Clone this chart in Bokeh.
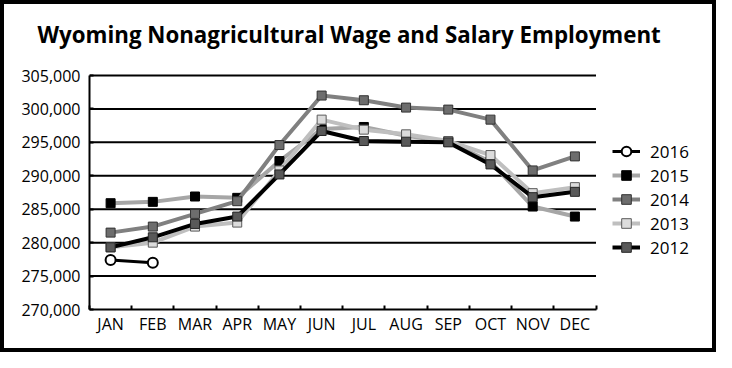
from bokeh.plotting import figure
from bokeh.models import (Range1d, FixedTicker, NumeralTickFormatter, Legend, LegendItem,
                          ColumnDataSource)
from bokeh.embed import file_html
from bokeh.resources import INLINE

months = ["JAN", "FEB", "MAR", "APR", "MAY", "JUN", "JUL", "AUG", "SEP", "OCT", "NOV", "DEC"]
y2016 = [277400, 277000]
y2015 = [285900, 286100, 286900, 286700, 292200, 297000, 297300, 296000, 295100, 292100, 285400, 283900]
y2014 = [281500, 282400, 284300, 286200, 294600, 302000, 301300, 300200, 299900, 298400, 290800, 292900]
y2013 = [279300, 280000, 282400, 283000, 290800, 298400, 296900, 296200, 295200, 293100, 287400, 288300]
y2012 = [279300, 280800, 282800, 283900, 290200, 296700, 295200, 295100, 295000, 291700, 286800, 287600]
y_ticks = [270000, 275000, 280000, 285000, 290000, 295000, 300000, 305000]

FONT = "Open Sans"

# layout (canvas pixels): frame 85..700 x 49..297; the month span uses 500 px,
# and the value span 270k..305k uses 234 px (top value at 63 px)
N = len(months)
XMAX = N * 615 / 500
FRAME_TOP, VALUE_TOP, FRAME_BOTTOM = 49, 63, 297
Y_END = y_ticks[0] + (y_ticks[-1] - y_ticks[0]) * (FRAME_BOTTOM - FRAME_TOP) / (FRAME_BOTTOM - VALUE_TOP)

p = figure(width=716, height=352, output_backend="svg", toolbar_location=None,
           x_range=Range1d(0, XMAX), y_range=Range1d(y_ticks[0], Y_END),
           min_border_left=85, min_border_right=8, min_border_top=FRAME_TOP,
           min_border_bottom=352 - 8 - FRAME_BOTTOM)
p.styles = {"border": "4px solid black"}
p.outline_line_color = None
p.background_fill_color = "white"
p.border_fill_color = "white"

p.title.text = "Wyoming Nonagricultural Wage and Salary Employment"
p.title.text_font = FONT
p.title.text_font_style = "bold"
p.title.text_font_size = "22.3px"
p.title.text_color = "black"
p.title.align = "left"
p.title.offset = -52
p.title.standoff = 24

xs = [i + 0.5 for i in range(N)]

# y axis
p.yaxis.ticker = FixedTicker(ticks=y_ticks)
p.yaxis.formatter = NumeralTickFormatter(format="0,0")
p.yaxis.bounds = (y_ticks[0], y_ticks[-1])
p.yaxis.major_tick_in = 4
p.yaxis.major_tick_out = 0
p.yaxis.minor_tick_line_color = None
p.yaxis.axis_line_width = 2
p.yaxis.major_tick_line_width = 2
p.yaxis.major_label_standoff = 9
p.yaxis.major_label_text_font = FONT
p.yaxis.major_label_text_font_size = "16px"
p.yaxis.major_label_text_color = "black"

# x axis
p.xaxis.ticker = FixedTicker(ticks=xs, minor_ticks=list(range(N + 1)))
p.xaxis.bounds = (0, N)
p.xaxis.major_label_overrides = {x: m for x, m in zip(xs, months)}
p.xaxis.major_tick_line_color = None
p.xaxis.major_tick_in = 0
p.xaxis.major_tick_out = 0
p.xaxis.minor_tick_in = 4
p.xaxis.minor_tick_out = 0
p.xaxis.minor_tick_line_width = 2
p.xaxis.axis_line_width = 2
p.xaxis.major_label_standoff = 3
p.xaxis.major_label_text_font = FONT
p.xaxis.major_label_text_font_size = "16px"
p.xaxis.major_label_text_color = "black"

p.xgrid.grid_line_color = None
p.ygrid.grid_line_color = None
# horizontal gridlines limited to the month span
gsrc = ColumnDataSource(dict(x0=[0] * (len(y_ticks) - 1), x1=[N] * (len(y_ticks) - 1),
                             y=y_ticks[1:]))
p.segment(x0="x0", y0="y", x1="x1", y1="y", source=gsrc, line_color="black", line_width=2)

series = {
    "2015": dict(y=y2015, line="#a6a6a6", fill="#000000", edge="#000000"),
    "2014": dict(y=y2014, line="#808080", fill="#6d6d6d", edge="#333333"),
    "2013": dict(y=y2013, line="#bfbfbf", fill="#dcdcdc", edge="#5a5a5a"),
    "2012": dict(y=y2012, line="#000000", fill="#595959", edge="#262626"),
}
renderers = {}
for name, s in series.items():
    src = ColumnDataSource(dict(x=xs[:len(s["y"])], y=s["y"]))
    lr = p.line("x", "y", source=src, line_color=s["line"], line_width=4)
    mr = p.scatter("x", "y", source=src, marker="square", size=9,
                   fill_color=s["fill"], line_color=s["edge"], line_width=1)
    renderers[name] = [lr, mr]

src16 = ColumnDataSource(dict(x=xs[:len(y2016)], y=y2016))
l16 = p.line("x", "y", source=src16, line_color="black", line_width=3)
m16 = p.scatter("x", "y", source=src16, marker="circle", size=10,
                fill_color="white", line_color="black", line_width=2)
renderers["2016"] = [l16, m16]

items = [LegendItem(label=k, renderers=renderers[k]) for k in ["2016", "2015", "2014", "2013", "2012"]]
legend = Legend(items=items, location=(523, 50), padding=0, spacing=0, margin=0,
                glyph_width=28, glyph_height=24, label_height=24, label_standoff=10,
                label_text_font=FONT, label_text_font_size="17px", label_text_color="black",
                border_line_color=None, background_fill_alpha=0)
p.add_layout(legend, "center")

open("out.html", "w").write(file_html(p, INLINE))
